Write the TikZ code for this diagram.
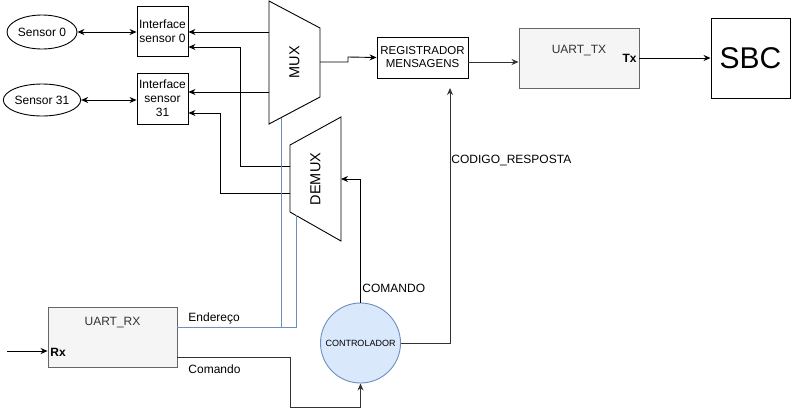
\documentclass[tikz,border=0pt]{standalone}
\usepackage{fontspec}
\setmainfont{Liberation Sans}
\usetikzlibrary{positioning,arrows.meta,calc,shapes.geometric}

\definecolor{cinzaborda}{HTML}{666666}
\definecolor{cinzafundo}{HTML}{F5F5F5}
\definecolor{azulborda}{HTML}{6C8EBF}
\definecolor{azulfundo}{HTML}{DAE8FC}
\definecolor{textocinza}{HTML}{333333}

\tikzset{
    every path/.style={line width=0.9pt},
    seta/.style={-{Stealth[length=7pt,width=6pt]}},
    dupla/.style={{Stealth[length=7pt,width=6pt]}-{Stealth[length=7pt,width=6pt]}},
    sensor/.style={draw, ellipse, minimum width=70, inner sep=0pt, font=\fontsize{12}{14}\selectfont},
    interface/.style={draw, minimum width=51, minimum height=50, inner sep=0pt, align=center, font=\fontsize{12}{14}\selectfont},
    uart/.style={draw=cinzaborda, fill=cinzafundo, minimum width=120, minimum height=60, inner sep=0pt},
    rotulo/.style={font=\fontsize{12}{14}\selectfont, inner sep=0pt},
}

\begin{document}
\begin{tikzpicture}[x=1pt, y=-1pt]
        \useasboundingbox (0,0) rectangle (791,416);

        % Sensores e interfaces.
        \node[sensor, minimum height=34] (s0) at (42,32) {Sensor 0};
        \node[sensor, minimum height=32] (s31) at (42,100) {Sensor 31};
        \node[interface] (if0) at (162.5,31) {Interface\\sensor 0};
        \node[interface, minimum height=51] (if31) at (162.5,98.5) {Interface\\sensor\\31};
        \draw[dupla] (s0.east) -- (s0.east -| if0.west);
        \draw[dupla] (s31.east) -- (s31.east -| if31.west);

        %MUX
        \coordinate (M1) at (269,1);
        \coordinate (M2) at (320,28);
        \coordinate (M3) at (320,97);
        \coordinate (M4) at (269,124);
        \draw (M1) -- (M2) -- (M3) -- (M4) -- cycle;
        \node[rotate=90, font=\fontsize{14.5}{16}\selectfont] (mux) at (294.5,62) {MUX};

        %DEMUX
        \coordinate (D1) at (290,145);
        \coordinate (D2) at (341,117);
        \coordinate (D3) at (341,241);
        \coordinate (D4) at (290,212);
        \draw (D1) -- (D2) -- (D3) -- (D4) -- cycle;
        \node[rotate=90, font=\fontsize{14.5}{16}\selectfont] (demux) at (315.5,179) {DEMUX};

        % MUX/DEMUX -> interfaces
        \coordinate (muxA) at (269,32);
        \coordinate (muxB) at (269,92);
        \draw[seta] (muxA) -- (muxA -| if0.east);
        \draw[seta] (muxB) -- (muxB -| if31.east);
        \coordinate (demuxA) at (290,166);
        \coordinate (demuxB) at (290,193);
        \draw[seta] (demuxA) -- (240,166) -- (240,47) -- (if0.east |- 0,47);
        \draw[seta] (demuxB) -- (220,193) -- (220,113) -- (if31.east |- 0,113);

        % Registrador e UART_TX.
        \node[draw, minimum width=91, minimum height=41, inner sep=0pt, align=center,
              font=\fontsize{11.5}{13}\selectfont] (reg) at (422.5,57.5) {REGISTRADOR\\MENSAGENS};
        \coordinate (muxS) at (320,62);
        \draw[seta] (muxS) -- (348,62) -- (348,57) -- (reg.west);
        \node[uart] (tx) at (579,58) {};
        \node[rotulo, text=textocinza] (txlbl) at (579,51) {UART\_TX};
        \node[rotulo, anchor=east, font=\fontsize{12}{14}\bfseries] (txpin) at (637,58) {Tx};
        \draw[seta, textocinza] (reg.east |- 0,62) -- (tx.west |- 0,62);
        \node[draw, minimum width=79, minimum height=80, inner sep=0pt,
              font=\fontsize{30}{32}\selectfont] (sbc) at (750.5,58) {SBC};
        \draw[seta] (tx.east) -- (sbc.west);

        % Controlador.
        \node[draw=azulborda, fill=azulfundo, circle, minimum size=80, inner sep=0pt,
              font=\fontsize{9}{10}\selectfont] (ctrl) at (360.5,343) {CONTROLADOR};
        \draw[seta] (ctrl.north) -- (360.5,179) -- (D2 |- 0,179);
        \node[rotulo, anchor=west] (cmdlbl) at (362,288) {COMANDO};
        \draw[seta, textocinza] (ctrl.east) -- (450,343) -- (450,88);
        \node[rotulo, anchor=west] (codlbl) at (451,160) {CODIGO\_RESPOSTA};

        % UART_RX
        \node[uart, minimum width=129] (rx) at (112.5,337) {};
        \node[rotulo, text=textocinza] (rxlbl) at (112.5,323) {UART\_RX};
        \node[rotulo, anchor=west, font=\fontsize{12}{14}\bfseries] (rxpin) at (50,352) {Rx};
        \coordinate (entrada) at (7,351);
        \draw[seta] (entrada) -- (entrada -| rx.west);

        %Endereco
        \draw[azulborda] (rx.east |- 0,327) -- (296,327) -- (296,215);
        \draw[azulborda] (281,327) -- (281,118);
        \node[rotulo, anchor=west] (endlbl) at (188,318) {Endereço};

        %Comando
        \draw[seta, textocinza] (rx.east |- 0,357) -- (290,357) -- (290,407) -- (360.5,407) -- (ctrl.south);
        \node[rotulo, anchor=west] (comlbl) at (188,369) {Comando};
\end{tikzpicture}
\end{document}
